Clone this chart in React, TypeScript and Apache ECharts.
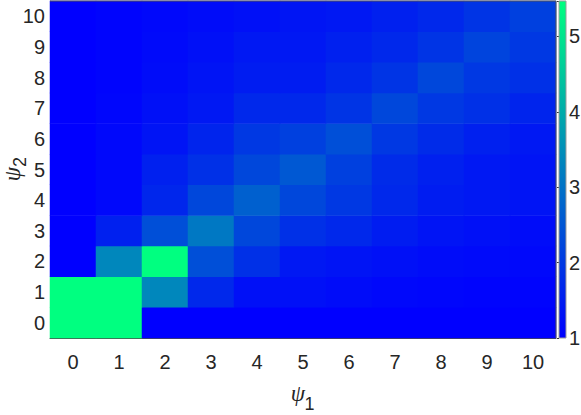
import React, { useEffect, useRef } from "react";
import * as echarts from "echarts";

const psi1Labels = ["0", "1", "2", "3", "4", "5", "6", "7", "8", "9", "10"];
const psi2Labels = ["0", "1", "2", "3", "4", "5", "6", "7", "8", "9", "10"];

// values per ψ2 row (index = ψ1)
const row0 = [5.47, 5.47, 1, 1, 1, 1, 1, 1, 1, 1, 1];
const row1 = [5.47, 5.47, 3.37, 1.7, 1.28, 1.28, 1.21, 1.14, 1.11, 1.07, 1.07];
const row2 = [1, 3.37, 5.47, 2.39, 1.84, 1.42, 1.35, 1.28, 1.21, 1.18, 1.14];
const row3 = [1, 1.56, 2.39, 3.1, 2.25, 1.84, 1.7, 1.49, 1.35, 1.28, 1.21];
const row4 = [1, 1.14, 1.67, 2.25, 2.68, 2.25, 1.98, 1.7, 1.49, 1.42, 1.35];
const row5 = [1, 1.14, 1.56, 1.84, 2.25, 2.54, 2.12, 1.76, 1.56, 1.42, 1.35];
const row6 = [1, 1.14, 1.35, 1.63, 1.98, 2.12, 2.39, 1.98, 1.76, 1.56, 1.42];
const row7 = [1, 1.11, 1.28, 1.42, 1.7, 1.7, 1.91, 2.25, 1.98, 1.84, 1.63];
const row8 = [1, 1.07, 1.21, 1.35, 1.49, 1.49, 1.7, 1.91, 2.25, 1.98, 1.84];
const row9 = [1, 1.07, 1.18, 1.28, 1.42, 1.42, 1.56, 1.7, 1.91, 2.19, 1.98];
const row10 = [1, 1.07, 1.14, 1.21, 1.28, 1.37, 1.42, 1.56, 1.7, 1.91, 2.12];

const colorbarTicks = [1, 2, 3, 4, 5];
const cMin = 1;
const cMax = 5.47;

const rows = [row0, row1, row2, row3, row4, row5, row6, row7, row8, row9, row10];

const FONT = "'Liberation Sans', Arial, sans-serif";
const SERIF = "'Liberation Serif', 'DejaVu Serif', serif";
const TXT = "#262626";

export default function App() {
  const ref = useRef<HTMLDivElement>(null);
  useEffect(() => {
    if (!ref.current) return;
    const chart = echarts.init(ref.current, undefined, { renderer: "svg" });
    const data: number[][] = [];
    rows.forEach((r, y) => r.forEach((v, x) => data.push([x, y, v])));

    const gl = 50, gt = 1, gw = 506, gh = 337;
    const cbx = 559, cbw = 7;

    const psiStyle = { text: "ψ", fill: TXT, font: `italic 23px ${SERIF}`, align: "center", verticalAlign: "middle" };
    const subStyle = (t: string) => ({ text: t, fill: TXT, font: `18px ${FONT}`, align: "center", verticalAlign: "middle" });

    chart.setOption({
      animation: false,
      backgroundColor: "#ffffff",
      grid: [
        { left: gl, top: gt, width: gw, height: gh, outerBoundsMode: "none", containLabel: false },
        { left: cbx, top: gt, width: cbw, height: gh, outerBoundsMode: "none", containLabel: false },
      ],
      xAxis: [
        {
          type: "category",
          data: psi1Labels,
          gridIndex: 0,
          position: "bottom",
          axisLine: { show: true, lineStyle: { color: "#4d4d4d", width: 1 } },
          axisTick: { show: false },
          splitLine: { show: false },
          axisLabel: { color: TXT, fontFamily: FONT, fontSize: 20, margin: 14 },
        },
        { type: "value", gridIndex: 1, show: false, min: 0, max: 1 },
      ],
      yAxis: [
        {
          type: "category",
          data: psi2Labels,
          gridIndex: 0,
          axisLine: { show: true, lineStyle: { color: "#a8a8a8", width: 1 } },
          axisTick: { show: false },
          splitLine: { show: false },
          axisLabel: { color: TXT, fontFamily: FONT, fontSize: 20, margin: 5 },
        },
        {
          type: "value",
          gridIndex: 1,
          min: cMin,
          max: cMax,
          interval: 1,
          position: "right",
          axisLine: { show: false },
          axisTick: { show: true, inside: true, length: 2, lineStyle: { color: "#333" } },
          splitLine: { show: false },
          axisLabel: {
            color: TXT,
            fontFamily: FONT,
            fontSize: 20,
            margin: 3,
            formatter: (v: number) => (colorbarTicks.includes(Math.round(v * 1000) / 1000) ? String(v) : ""),
          },
        },
      ],
      visualMap: {
        type: "continuous",
        show: false,
        min: cMin,
        max: cMax,
        seriesIndex: 0,
        inRange: { color: ["#0000ff", "#00ff80"] },
      },
      graphic: [
        {
          type: "rect",
          z: 5,
          shape: { x: cbx, y: gt, width: cbw, height: gh },
          style: {
            fill: new echarts.graphic.LinearGradient(0, 0, 0, 1, [
              { offset: 0, color: "#00ff80" },
              { offset: 1, color: "#0000ff" },
            ]),
            stroke: "#9a9a9a",
            lineWidth: 1,
          },
        },
        {
          type: "polyline",
          z: 10,
          shape: { points: [[gl, gt], [gl + gw, gt], [gl + gw, gt + gh]] },
          style: { stroke: "#555", lineWidth: 1, fill: "none" },
        },
        // x-axis name ψ1
        { type: "text", x: 298, y: 393, style: psiStyle },
        { type: "text", x: 309.5, y: 404, style: subStyle("1") },
        // y-axis name ψ2 (rotated)
        { type: "text", x: 12, y: 174, rotation: Math.PI / 2, style: psiStyle },
        { type: "text", x: 20, y: 162, rotation: Math.PI / 2, style: subStyle("2") },
      ],
      series: [
        {
          type: "heatmap",
          xAxisIndex: 0,
          yAxisIndex: 0,
          data,
          itemStyle: { borderWidth: 0 },
          emphasis: { disabled: true },
        },
      ],
    });
    return () => chart.dispose();
  }, []);
  return <div ref={ref} style={{ position: "fixed", left: 0, top: 0, width: 581, height: 415 }} />;
}
